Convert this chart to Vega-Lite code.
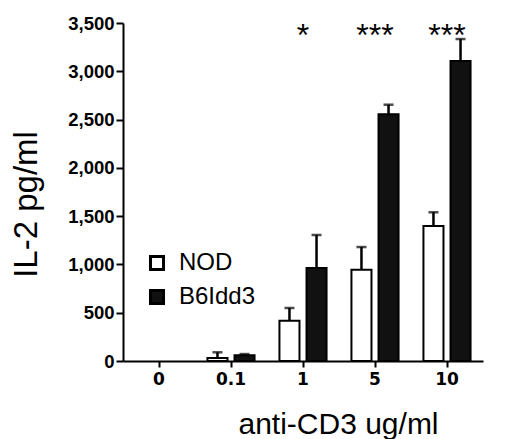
{
  "$schema": "https://vega.github.io/schema/vega-lite/v6.json",
  "autosize": "none",
  "width": 360,
  "height": 338,
  "padding": {"left": 123, "top": 23, "right": 22, "bottom": 78},
  "background": "white",
  "config": {"view": {"stroke": null}, "font": "Liberation Sans"},
  "datasets": {
    "bars": [
      {"dose": "0", "group": "NOD", "mean": 0, "upper": 0},
      {"dose": "0", "group": "B6Idd3", "mean": 0, "upper": 0},
      {"dose": "0.1", "group": "NOD", "mean": 30, "upper": 90},
      {"dose": "0.1", "group": "B6Idd3", "mean": 60, "upper": 72},
      {"dose": "1", "group": "NOD", "mean": 417, "upper": 549},
      {"dose": "1", "group": "B6Idd3", "mean": 963, "upper": 1305},
      {"dose": "5", "group": "NOD", "mean": 946, "upper": 1180},
      {"dose": "5", "group": "B6Idd3", "mean": 2555, "upper": 2654},
      {"dose": "10", "group": "NOD", "mean": 1398, "upper": 1540},
      {"dose": "10", "group": "B6Idd3", "mean": 3106, "upper": 3334}
    ],
    "stars": [
      {"dose": "1", "label": "*"},
      {"dose": "5", "label": "***"},
      {"dose": "10", "label": "***"}
    ]
  },
  "encoding": {
    "x": {
      "field": "dose", "type": "nominal", "sort": ["0", "0.1", "1", "5", "10"],
      "scale": {"domain": ["0", "0.1", "1", "5", "10"], "paddingInner": 0, "paddingOuter": 0},
      "axis": {
        "title": "anti-CD3 ug/ml", "labelAngle": 0, "labelFont": "DejaVu Sans", "labelFontWeight": "bold", "labelFontSize": 17,
        "labelColor": "black", "domainColor": "black", "domainWidth": 2, "tickColor": "black",
        "tickWidth": 2, "tickSize": 6, "labelPadding": 4, "titleFontSize": 30, "titleFontWeight": "normal",
        "titleColor": "black", "titleX": 215, "titleY": 72, "titleBaseline": "alphabetic"
      }
    }
  },
  "layer": [
    {
      "data": {"name": "bars"},
      "transform": [{"filter": "datum.mean > 0"}],
      "mark": {"type": "bar", "stroke": "black", "strokeWidth": 2},
      "encoding": {
        "xOffset": {"field": "group", "type": "nominal", "sort": ["NOD", "B6Idd3"], "scale": {"paddingInner": 0.26, "paddingOuter": 0.46}},
        "y": {
          "field": "mean", "type": "quantitative",
          "scale": {"domain": [0, 3500], "nice": false},
          "axis": {
            "title": "IL-2 pg/ml", "format": ",d", "values": [0, 500, 1000, 1500, 2000, 2500, 3000, 3500],
            "grid": false, "labelFontWeight": "bold", "labelFontSize": 18.5, "labelColor": "black",
            "domainColor": "black", "domainWidth": 2, "tickColor": "black", "tickWidth": 2, "tickSize": 7,
            "labelPadding": 2, "titleFontSize": 33, "titleFontWeight": "normal", "titleColor": "black",
            "titlePadding": 24, "titleY": 181
          }
        },
        "fill": {
          "field": "group", "type": "nominal",
          "scale": {"domain": ["NOD", "B6Idd3"], "range": ["white", "#111111"]},
          "legend": {
            "title": null, "orient": "none", "legendX": 22, "legendY": 228, "symbolType": "square",
            "symbolSize": 170, "symbolStrokeColor": "black", "symbolStrokeWidth": 3, "labelFontSize": 24,
            "labelColor": "black", "labelOffset": 10, "rowPadding": 8, "padding": 0
          }
        }
      }
    },
    {
      "data": {"name": "bars"},
      "transform": [{"filter": "datum.upper > datum.mean"}],
      "mark": {"type": "rule", "color": "black", "strokeWidth": 2.5},
      "encoding": {
        "xOffset": {"field": "group", "type": "nominal", "sort": ["NOD", "B6Idd3"]},
        "y": {
          "field": "mean", "type": "quantitative",
          "axis": {
            "title": "IL-2 pg/ml", "format": ",d", "values": [0, 500, 1000, 1500, 2000, 2500, 3000, 3500],
            "grid": false, "labelFontWeight": "bold", "labelFontSize": 18.5, "labelColor": "black",
            "domainColor": "black", "domainWidth": 2, "tickColor": "black", "tickWidth": 2, "tickSize": 7,
            "labelPadding": 2, "titleFontSize": 33, "titleFontWeight": "normal", "titleColor": "black",
            "titlePadding": 24, "titleY": 181
          }
        },
        "y2": {"field": "upper"}
      }
    },
    {
      "data": {"name": "bars"},
      "transform": [{"filter": "datum.upper > datum.mean"}],
      "mark": {"type": "tick", "color": "black", "size": 10, "thickness": 2.5, "orient": "horizontal"},
      "encoding": {
        "xOffset": {"field": "group", "type": "nominal", "sort": ["NOD", "B6Idd3"]},
        "y": {
          "field": "upper", "type": "quantitative",
          "axis": {
            "title": "IL-2 pg/ml", "format": ",d", "values": [0, 500, 1000, 1500, 2000, 2500, 3000, 3500],
            "grid": false, "labelFontWeight": "bold", "labelFontSize": 18.5, "labelColor": "black",
            "domainColor": "black", "domainWidth": 2, "tickColor": "black", "tickWidth": 2, "tickSize": 7,
            "labelPadding": 2, "titleFontSize": 33, "titleFontWeight": "normal", "titleColor": "black",
            "titlePadding": 24, "titleY": 181
          }
        }
      }
    },
    {
      "data": {"name": "stars"},
      "mark": {"type": "text", "fontSize": 32, "baseline": "alphabetic", "color": "black"},
      "encoding": {
        "y": {
          "datum": 3262, "type": "quantitative",
          "axis": {
            "title": "IL-2 pg/ml", "format": ",d", "values": [0, 500, 1000, 1500, 2000, 2500, 3000, 3500],
            "grid": false, "labelFontWeight": "bold", "labelFontSize": 18.5, "labelColor": "black",
            "domainColor": "black", "domainWidth": 2, "tickColor": "black", "tickWidth": 2, "tickSize": 7,
            "labelPadding": 2, "titleFontSize": 33, "titleFontWeight": "normal", "titleColor": "black",
            "titlePadding": 24, "titleY": 181
          }
        },
        "text": {"field": "label"}
      }
    }
  ]
}
